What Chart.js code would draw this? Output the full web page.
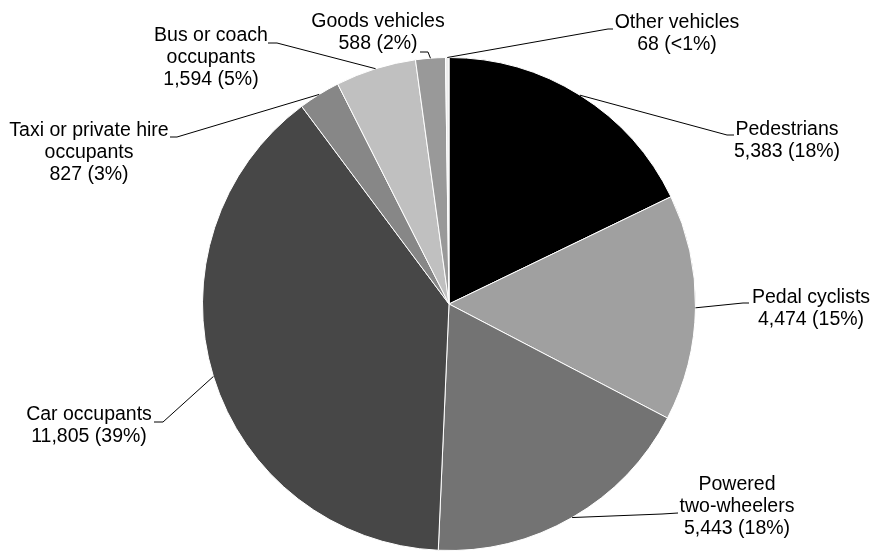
<!doctype html>
<html lang="en">
    <head>
        <meta charset="UTF-8" />
        <title>Casualties by road user type</title>
        <script src="https://cdn.jsdelivr.net/npm/chart.js"></script>
        <style>
            body {
                margin: 0;
                background: #fff;
            }
            #chart-container {
                width: 872px;
                height: 552px;
            }
        </style>
    </head>
    <body>
        <div id="chart-container">
            <canvas id="casualtyChart" width="872" height="552"></canvas>
        </div>

        <script>
            const categories = [
                "Pedestrians",
                "Pedal cyclists",
                "Powered two-wheelers",
                "Car occupants",
                "Taxi or private hire occupants",
                "Bus or coach occupants",
                "Goods vehicles",
                "Other vehicles",
            ];
            const casualties = [5383, 4474, 5443, 11805, 827, 1594, 588, 68];
            const sliceColours = [
                "#000000",
                "#a0a0a0",
                "#737373",
                "#474747",
                "#878787",
                "#c0c0c0",
                "#999999",
                "#eeeeee",
            ];

            // how each label's name is broken into lines
            const labelLines = [
                ["Pedestrians"],
                ["Pedal cyclists"],
                ["Powered", "two-wheelers"],
                ["Car occupants"],
                ["Taxi or private hire", "occupants"],
                ["Bus or coach", "occupants"],
                ["Goods vehicles"],
                ["Other vehicles"],
            ];

            // leader elbow, end of the short horizontal, text centre x, first line y
            const labelPlacement = [
                { elbow: [727, 135], end: [734, 135], x: 787, y: 130 },
                { elbow: [743, 303], end: [749, 303], x: 811, y: 298 },
                { elbow: [662, 514], end: [678, 513], x: 737, y: 485 },
                { elbow: [163, 422], end: [154, 422], x: 89, y: 415 },
                { elbow: [177, 137], end: [170, 137], x: 89, y: 131 },
                { elbow: [277, 43], end: [268, 43], x: 211, y: 36 },
                { elbow: [428, 52], end: [420, 52], x: 378, y: 22 },
                { elbow: [608, 29], end: [613, 29], x: 677, y: 23 },
            ];

            const total = casualties.reduce((a, b) => a + b, 0);

            function valueText(v) {
                const pct = (v / total) * 100;
                const pctText = pct < 1 ? "<1%" : Math.round(pct) + "%";
                return v.toLocaleString("en-GB") + " (" + pctText + ")";
            }

            const leaderLabels = {
                id: "leaderLabels",
                afterDraw(chart) {
                    const ctx = chart.ctx;
                    const arcs = chart.getDatasetMeta(0).data;
                    ctx.save();
                    ctx.strokeStyle = "#000";
                    ctx.lineWidth = 1;
                    ctx.fillStyle = "#000";
                    ctx.font = "19.5px 'Liberation Sans', Arial, sans-serif";
                    ctx.textAlign = "center";
                    ctx.textBaseline = "middle";
                    arcs.forEach((arc, i) => {
                        const p = arc.getProps(
                            ["x", "y", "startAngle", "endAngle", "outerRadius"],
                            true,
                        );
                        const mid = (p.startAngle + p.endAngle) / 2;
                        const ax = p.x + Math.cos(mid) * p.outerRadius;
                        const ay = p.y + Math.sin(mid) * p.outerRadius;
                        const place = labelPlacement[i];

                        ctx.beginPath();
                        ctx.moveTo(ax, ay);
                        ctx.lineTo(place.elbow[0], place.elbow[1]);
                        ctx.lineTo(place.end[0], place.end[1]);
                        ctx.stroke();

                        const lines = labelLines[i].concat([valueText(casualties[i])]);
                        lines.forEach((line, j) => {
                            ctx.fillText(line, place.x, place.y + j * 22);
                        });
                    });
                    ctx.restore();
                },
            };

            new Chart(document.getElementById("casualtyChart"), {
                type: "pie",
                data: {
                    labels: categories,
                    datasets: [
                        {
                            data: casualties,
                            backgroundColor: sliceColours,
                            borderColor: "#ffffff",
                            borderWidth: 1,
                        },
                    ],
                },
                options: {
                    responsive: false,
                    animation: false,
                    layout: {
                        padding: { top: 57, bottom: 1, left: 202, right: 176 },
                    },
                    plugins: {
                        legend: { display: false },
                        tooltip: { enabled: false },
                    },
                },
                plugins: [leaderLabels],
            });
        </script>
    </body>
</html>
